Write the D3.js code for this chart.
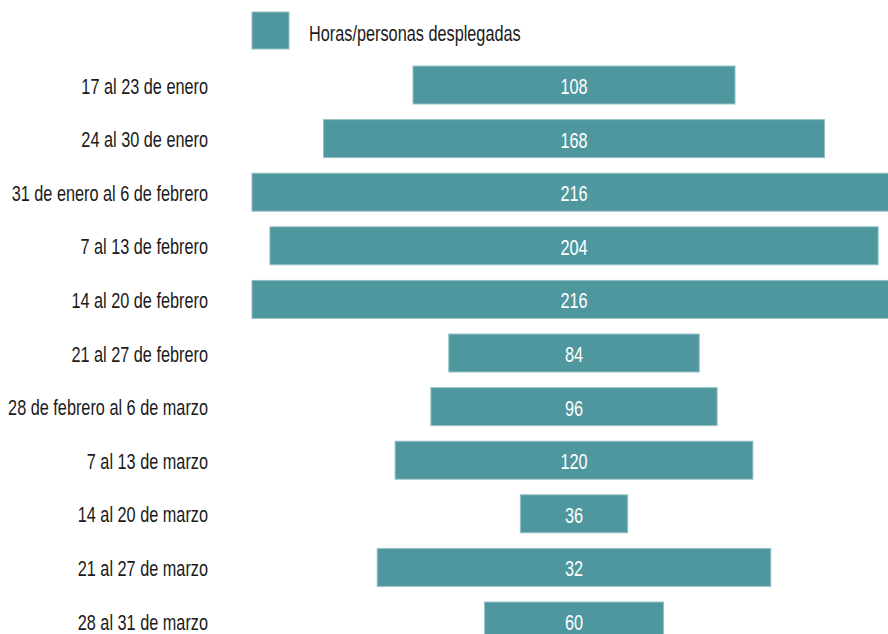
<!DOCTYPE html>
<html><head><meta charset="utf-8">
<script src="https://cdn.jsdelivr.net/npm/d3@7"></script>
<style>
html,body{margin:0;padding:0;background:#fff;overflow:hidden;}
text{font-family:"Liberation Sans",Arial,sans-serif;}
</style></head>
<body><svg id="c" width="888" height="634"></svg>
<script>
const categories = ["17 al 23 de enero","24 al 30 de enero","31 de enero al 6 de febrero","7 al 13 de febrero","14 al 20 de febrero","21 al 27 de febrero","28 de febrero al 6 de marzo","7 al 13 de marzo","14 al 20 de marzo","21 al 27 de marzo","28 al 31 de marzo"];
const values = [108,168,216,204,216,84,96,120,36,132,60];
const valueLabels = ["108","168","216","204","216","84","96","120","36","32","60"];
const seriesName = "Horas/personas desplegadas";

const svg = d3.select("#c");
const cx = 574;
const sx = 0.74;
const color = "#4f979e";
const w = d3.scaleLinear().domain([0,216]).range([0,644]);
const y = d3.scaleBand().domain(categories).range([58.2, 58.2+11*53.6]).paddingInner(0.292).paddingOuter(0.146);

const rows = svg.selectAll("g.row").data(categories).join("g").attr("class","row");
rows.append("rect")
  .attr("x",(d,i)=>cx - w(values[i])/2)
  .attr("y",d=>y(d))
  .attr("width",(d,i)=>w(values[i]))
  .attr("height",y.bandwidth())
  .attr("fill",color).attr("stroke","#93c0c4").attr("stroke-width",1);
rows.append("text")
  .attr("transform",d=>`translate(${cx},${y(d)+y.bandwidth()/2+9}) scale(${sx},1)`)
  .attr("text-anchor","middle")
  .attr("fill","#fff").attr("font-size",22)
  .text((d,i)=>valueLabels[i]);
rows.append("text")
  .attr("transform",d=>`translate(208,${y(d)+y.bandwidth()/2+8.5}) scale(${sx},1)`)
  .attr("text-anchor","end")
  .attr("fill","#1a1a1a").attr("font-size",22)
  .text(d=>d);

svg.append("rect").attr("x",252).attr("y",12).attr("width",37).attr("height",37)
  .attr("fill",color).attr("stroke","#93c0c4").attr("stroke-width",1);
svg.append("text").attr("transform",`translate(309,40.5) scale(${sx},1)`)
  .attr("fill","#1a1a1a").attr("font-size",22).text(seriesName);
</script></body></html>
